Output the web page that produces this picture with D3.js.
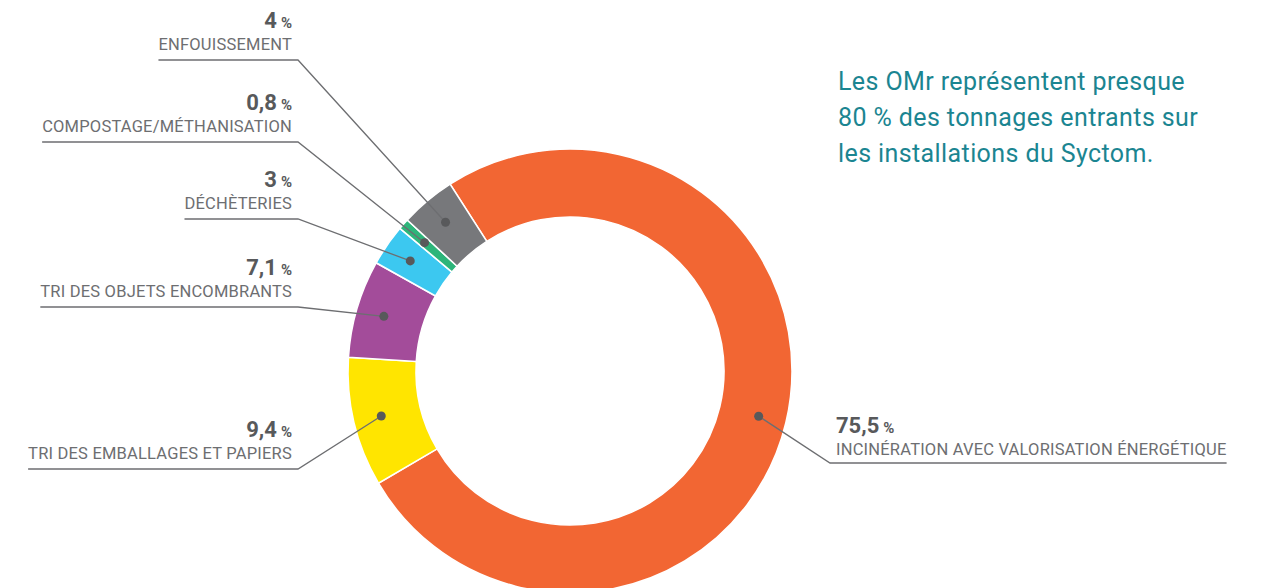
<!DOCTYPE html>
<html>
<head>
<meta charset="utf-8">
<script src="https://cdn.jsdelivr.net/npm/d3@7"></script>
<style>
  html, body { margin: 0; padding: 0; background: #fff; }
  svg { display: block; font-family: Roboto, "Noto Sans", sans-serif; }
</style>
</head>
<body>
<div id="chart"></div>
<script>
// data
var categories = [
    "INCINÉRATION AVEC VALORISATION ÉNERGÉTIQUE",
    "TRI DES EMBALLAGES ET PAPIERS",
    "TRI DES OBJETS ENCOMBRANTS",
    "DÉCHÈTERIES",
    "COMPOSTAGE/MÉTHANISATION",
    "ENFOUISSEMENT"
];
var values = [75.5, 9.4, 7.1, 3, 0.8, 4];
var valueLabels = ["75,5", "9,4", "7,1", "3", "0,8", "4"];
var colors = ["#f26633", "#ffe500", "#a34c9a", "#3cc8f0", "#2db57a", "#77787b"];
var noteLines = [
    "Les OMr représentent presque",
    "80 % des tonnages entrants sur",
    "les installations du Syctom."
];

// layout of the callouts (side, underline y)
var callouts = [
    {side: "right", lineY: 463},
    {side: "left", lineY: 469},
    {side: "left", lineY: 307},
    {side: "left", lineY: 219},
    {side: "left", lineY: 142},
    {side: "left", lineY: 60}
];

function drawDonut() {
    var width = 1261, height = 588;
    var cx = 570, cy = 371,
        outerR = 222, innerR = 154;

    var svg = d3.select("#chart").append("svg")
        .attr("width", width)
        .attr("height", height);

    var start = -32.7 * Math.PI / 180;
    var pie = d3.pie()
        .sort(null)
        .value(function (d) { return d; })
        .startAngle(start)
        .endAngle(start + 2 * Math.PI);

    var arc = d3.arc()
        .innerRadius(innerR)
        .outerRadius(outerR);

    var dotArc = d3.arc()
        .innerRadius(194)
        .outerRadius(194);

    var arcs = pie(values);

    var g = svg.append("g")
        .attr("transform", "translate(" + cx + "," + cy + ")");

    g.selectAll(".slice")
        .data(arcs)
        .enter().append("path")
        .attr("class", "slice")
        .attr("d", arc)
        .attr("fill", function (d, i) { return colors[i]; })
        .attr("stroke", "#fff")
        .attr("stroke-width", 1.6);

    var lineColor = "#6d6e71";
    var textColor = "#58595b";

    arcs.forEach(function (a, i) {
        var c = dotArc.centroid(a);
        var dx = cx + c[0], dy = cy + c[1];
        var co = callouts[i];

        var label, value, corner;
        if (co.side === "left") {
            var rightX = 292;
            value = svg.append("text")
                .attr("x", rightX)
                .attr("y", co.lineY - 32)
                .attr("text-anchor", "end")
                .attr("fill", textColor)
                .attr("font-weight", 700);
            value.append("tspan").attr("font-size", 22).text(valueLabels[i]);
            value.append("tspan").attr("font-size", 15).attr("dx", 4).text("%");

            label = svg.append("text")
                .attr("x", rightX)
                .attr("y", co.lineY - 10.5)
                .attr("text-anchor", "end")
                .attr("fill", lineColor)
                .attr("font-size", 16.5)
                .attr("letter-spacing", 0.2)
                .text(categories[i]);

            var bb = label.node().getBBox();
            corner = [298, co.lineY];
            svg.append("polyline")
                .attr("points", [[bb.x, co.lineY], corner, [dx, dy]].join(" "))
                .attr("fill", "none")
                .attr("stroke", lineColor)
                .attr("stroke-width", 1.3);
        } else {
            var leftX = 836;
            value = svg.append("text")
                .attr("x", leftX)
                .attr("y", co.lineY - 30)
                .attr("fill", textColor)
                .attr("font-weight", 700);
            value.append("tspan").attr("font-size", 22).text(valueLabels[i]);
            value.append("tspan").attr("font-size", 15).attr("dx", 4).text("%");

            label = svg.append("text")
                .attr("x", leftX)
                .attr("y", co.lineY - 8)
                .attr("fill", lineColor)
                .attr("font-size", 16.5)
                .attr("letter-spacing", 0.2)
                .text(categories[i]);

            var bb2 = label.node().getBBox();
            corner = [830, co.lineY];
            svg.append("polyline")
                .attr("points", [[dx, dy], corner, [bb2.x + bb2.width, co.lineY]].join(" "))
                .attr("fill", "none")
                .attr("stroke", lineColor)
                .attr("stroke-width", 1.3);
        }

        svg.append("circle")
            .attr("cx", dx)
            .attr("cy", dy)
            .attr("r", 4.5)
            .attr("fill", textColor);
    });

    svg.selectAll(".note")
        .data(noteLines)
        .enter().append("text")
        .attr("class", "note")
        .attr("x", 838)
        .attr("y", function (d, i) { return 90 + i * 36; })
        .attr("fill", "#1b8591")
        .attr("font-size", 25)
        .attr("letter-spacing", 0.4)
        .text(function (d) { return d; });
}

drawDonut();
</script>
</body>
</html>
